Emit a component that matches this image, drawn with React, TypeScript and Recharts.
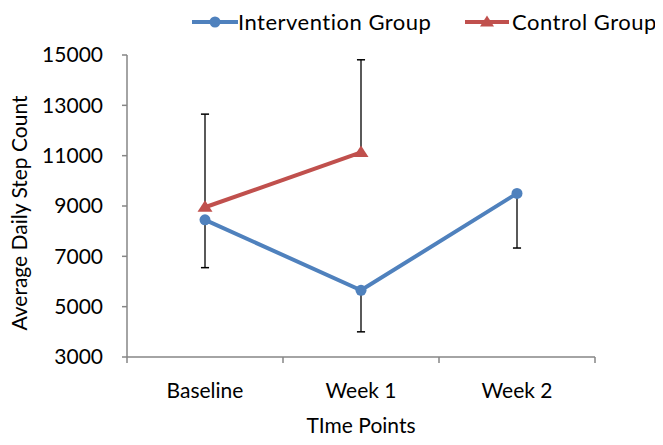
import React from "react";
import { LineChart, Line, XAxis, YAxis, ReferenceLine, Legend } from "recharts";

const categories = ["Baseline", "Week 1", "Week 2"];
const interventionMeans = [8450, 5650, 9500];
const interventionErr = [1900, 1650, 2170]; // drawn downward
const controlMeans: (number | null)[] = [8950, 11130, null];
const controlErr: (number | null)[] = [3700, 3680, null]; // drawn upward
const yTicks = [3000, 5000, 7000, 9000, 11000, 13000, 15000];

const BLUE = "#4F81BD";
const RED = "#C0504D";
const AXIS = "#868686";
const FONT = "Lato, 'Open Sans', sans-serif";
const CAP = 0.026; // half cap width in category units

const data = categories.map((name, i) => ({
  pos: i + 0.5,
  name,
  intervention: interventionMeans[i],
  control: controlMeans[i],
}));

// one-sided whiskers: [x, from, to]
const whiskers: [number, number, number][] = [];
categories.forEach((_, i) => {
  whiskers.push([i + 0.5, interventionMeans[i], interventionMeans[i] - interventionErr[i]]);
  const m = controlMeans[i];
  const e = controlErr[i];
  if (m != null && e != null) whiskers.push([i + 0.5, m, m + e]);
});

const HALF_BAND = (663 - 127 - 68) / 6;

const CatTick = (props: { x: number; y: number; payload: { value: number } }) => {
  const idx = Math.round(props.payload.value);
  if (idx >= categories.length) return <g />;
  return (
    <text x={props.x + HALF_BAND} y={props.y} dy="0.71em" textAnchor="middle" fontSize={21} fontFamily={FONT} fill="#000">
      {categories[idx]}
    </text>
  );
};

const Triangle = (props: { cx?: number; cy?: number; value?: number | null }) => {
  const { cx, cy, value } = props;
  if (cx == null || cy == null || value == null) return <g />;
  return <polygon points={`${cx},${cy - 7} ${cx - 7.5},${cy + 4.5} ${cx + 7.5},${cy + 4.5}`} fill={RED} />;
};

const YLabel = (props: { viewBox?: { x: number; y: number; width: number; height: number } }) => {
  const vb = props.viewBox;
  if (!vb) return null;
  const cx = vb.x + 27;
  const cy = vb.y + vb.height / 2 + 7;
  return (
    <text x={cx} y={cy} transform={`rotate(-90 ${cx} ${cy})`} textAnchor="middle" fontSize={21} fontFamily={FONT} fill="#000">
      Average Daily Step Count
    </text>
  );
};

const textStyle: React.CSSProperties = {
  position: "absolute",
  top: 8,
  fontFamily: FONT,
  fontSize: 22,
  letterSpacing: 0.5,
  lineHeight: "28px",
  color: "#000",
  whiteSpace: "nowrap",
};

const LegendContent = () => (
  <div style={{ position: "relative", height: 0, width: 663 }}>
    <svg width={46} height={16} style={{ position: "absolute", left: 192, top: 14 }}>
      <line x1={0} y1={8} x2={46} y2={8} stroke={BLUE} strokeWidth={4} />
      <circle cx={23} cy={8} r={5.5} fill={BLUE} />
    </svg>
    <span style={{ ...textStyle, left: 238 }}>Intervention Group</span>
    <svg width={44} height={16} style={{ position: "absolute", left: 465, top: 14 }}>
      <line x1={0} y1={8} x2={44} y2={8} stroke={RED} strokeWidth={4} />
      <polygon points="22,1.5 15,12.5 29,12.5" fill={RED} />
    </svg>
    <span style={{ ...textStyle, left: 512 }}>Control Group</span>
  </div>
);

export default function App() {
  return (
    <div style={{ margin: -8, width: 663, height: 445, background: "#fff" }}>
      <LineChart width={663} height={445} data={data} margin={{ top: 55, right: 68, bottom: 0, left: 0 }}>
        <XAxis
          dataKey="pos"
          type="number"
          domain={[0, 3]}
          ticks={[0, 1, 2, 3]}
          interval={0}
          tick={CatTick}
          tickSize={6}
          tickMargin={20}
          tickLine={{ stroke: AXIS, strokeWidth: 1.5 }}
          axisLine={{ stroke: AXIS, strokeWidth: 1.5 }}
          height={88}
          label={{ value: "TIme Points", position: "insideBottom", offset: 12, fontSize: 21, fontFamily: FONT, fill: "#000" }}
        />
        <YAxis
          domain={[3000, 15000]}
          ticks={yTicks}
          interval={0}
          width={127}
          tickSize={5}
          tickMargin={19}
          tick={{ fontSize: 21, fontFamily: FONT, fill: "#000" }}
          tickLine={{ stroke: AXIS, strokeWidth: 1.5 }}
          axisLine={{ stroke: AXIS, strokeWidth: 1.5 }}
          label={YLabel}
        />
        <Legend verticalAlign="top" content={LegendContent} wrapperStyle={{ top: 0, left: 0, width: 663, height: 0 }} />
        {whiskers.map(([x, from, to], k) => (
          <ReferenceLine key={`w${k}`} segment={[{ x, y: from }, { x, y: to }]} stroke="#000" strokeWidth={1.3} />
        ))}
        {whiskers.map(([x, , to], k) => (
          <ReferenceLine key={`c${k}`} segment={[{ x: x - CAP, y: to }, { x: x + CAP, y: to }]} stroke="#000" strokeWidth={1.5} />
        ))}
        <Line
          dataKey="intervention"
          name="Intervention Group"
          stroke={BLUE}
          strokeWidth={4}
          dot={{ r: 5.5, fill: BLUE, stroke: BLUE, strokeWidth: 0 }}
          isAnimationActive={false}
        />
        <Line
          dataKey="control"
          name="Control Group"
          stroke={RED}
          strokeWidth={4}
          dot={Triangle}
          isAnimationActive={false}
        />
      </LineChart>
    </div>
  );
}
